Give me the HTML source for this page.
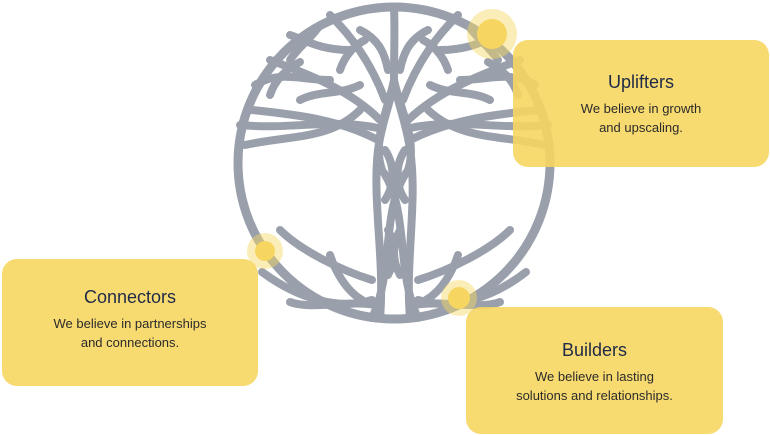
<!DOCTYPE html>
<html><head><style>
html,body{margin:0;padding:0;background:#fff;width:770px;height:435px;overflow:hidden;position:relative;font-family:"Liberation Sans",sans-serif}
.box{position:absolute;background:rgba(246,214,96,0.9);border-radius:15px;text-align:center;color:#2b2b2b}
.box h3{margin:0;font-weight:normal;font-size:18px;color:#1f2a48}
.box p{margin:6px 0 0;font-size:13px;line-height:19px}
svg{position:absolute;left:0;top:0}
</style></head><body>
<svg width="770" height="435" viewBox="0 0 770 435">
<g fill="none" stroke="#9aa0ab" stroke-linecap="round" stroke-linejoin="round">
<circle cx="394" cy="163" r="156" stroke-width="9"/>
<g stroke-width="8">
<path d="M380 318 C385 260 372 200 378 150 C382 120 392 100 394 80"/>
<path d="M410 318 C405 260 418 200 410 150 C406 120 396 100 394 80"/>
<path d="M372 318 C395 270 380 210 408 170 C418 140 400 110 394 80"/>
<path d="M418 318 C395 270 410 210 382 170 C372 140 388 110 394 80"/>
<path d="M372 300 C340 310 300 300 262 272"/>
<path d="M375 305 C350 300 310 310 290 302"/>
<path d="M418 300 C450 310 490 300 526 272"/>
<path d="M415 305 C440 300 480 310 500 302"/>
<path d="M372 280 C340 270 300 250 280 230"/>
<path d="M418 280 C450 270 490 250 510 230"/>
<path d="M362 300 C345 290 335 270 330 255"/>
<path d="M426 300 C443 290 453 270 458 255"/>
<path d="M378 140 C340 120 300 115 252 110"/>
<path d="M410 140 C450 120 490 115 538 110"/>
<path d="M378 128 C330 118 290 130 240 125"/>
<path d="M410 128 C458 118 498 130 548 125"/>
<path d="M380 120 C350 90 310 75 270 60"/>
<path d="M408 120 C440 90 480 75 520 60"/>
<path d="M385 100 C370 60 350 35 330 15"/>
<path d="M403 100 C418 60 438 35 458 15"/>
<path d="M394 80 C394 50 395 30 394 7"/>
<path d="M360 110 C330 140 290 135 245 145"/>
<path d="M428 110 C460 140 500 135 545 145"/>
<path d="M330 80 C300 80 280 70 255 85"/>
<path d="M460 80 C490 80 510 70 535 85"/>
<path d="M350 50 C320 50 305 40 290 35"/>
<path d="M440 50 C470 50 485 40 500 35"/>
<path d="M360 30 C380 40 385 55 388 70"/>
<path d="M428 30 C408 40 403 55 400 70"/>
<path d="M300 100 C320 90 340 95 360 85"/>
<path d="M490 100 C470 90 450 95 430 85"/>
<path d="M290 60 C300 45 310 40 320 25"/>
<path d="M498 60 C488 45 478 40 468 25"/>
<path d="M340 70 C345 55 355 45 365 40"/>
<path d="M448 70 C443 55 433 45 423 40"/>
<path d="M270 95 C275 80 285 70 300 62"/>
<path d="M518 95 C513 80 503 70 488 62"/>
<path d="M405 150 C395 165 395 185 405 200"/>
<path d="M385 150 C395 165 395 185 385 200"/>
<path d="M388 230 C396 245 396 260 388 275"/>
<path d="M400 230 C392 245 392 260 400 275"/>
</g></g>
<circle cx="492" cy="34" r="25" fill="rgba(246,214,96,0.45)"/>
<circle cx="492" cy="34" r="15" fill="#f6d660"/>
<circle cx="265" cy="251" r="18" fill="rgba(246,214,96,0.45)"/>
<circle cx="265" cy="251" r="10" fill="#f6d660"/>
<circle cx="459" cy="298" r="18" fill="rgba(246,214,96,0.45)"/>
<circle cx="459" cy="298" r="11" fill="#f6d660"/>
</svg>
<div class="box" style="left:513px;top:40px;width:256px;height:127px"><h3 style="margin-top:32px">Uplifters</h3><p>We believe in growth<br>and upscaling.</p></div>
<div class="box" style="left:2px;top:259px;width:256px;height:127px"><h3 style="margin-top:28px">Connectors</h3><p>We believe in partnerships<br>and connections.</p></div>
<div class="box" style="left:466px;top:307px;width:257px;height:127px"><h3 style="margin-top:33px">Builders</h3><p>We believe in lasting<br>solutions and relationships.</p></div>
</body></html>
